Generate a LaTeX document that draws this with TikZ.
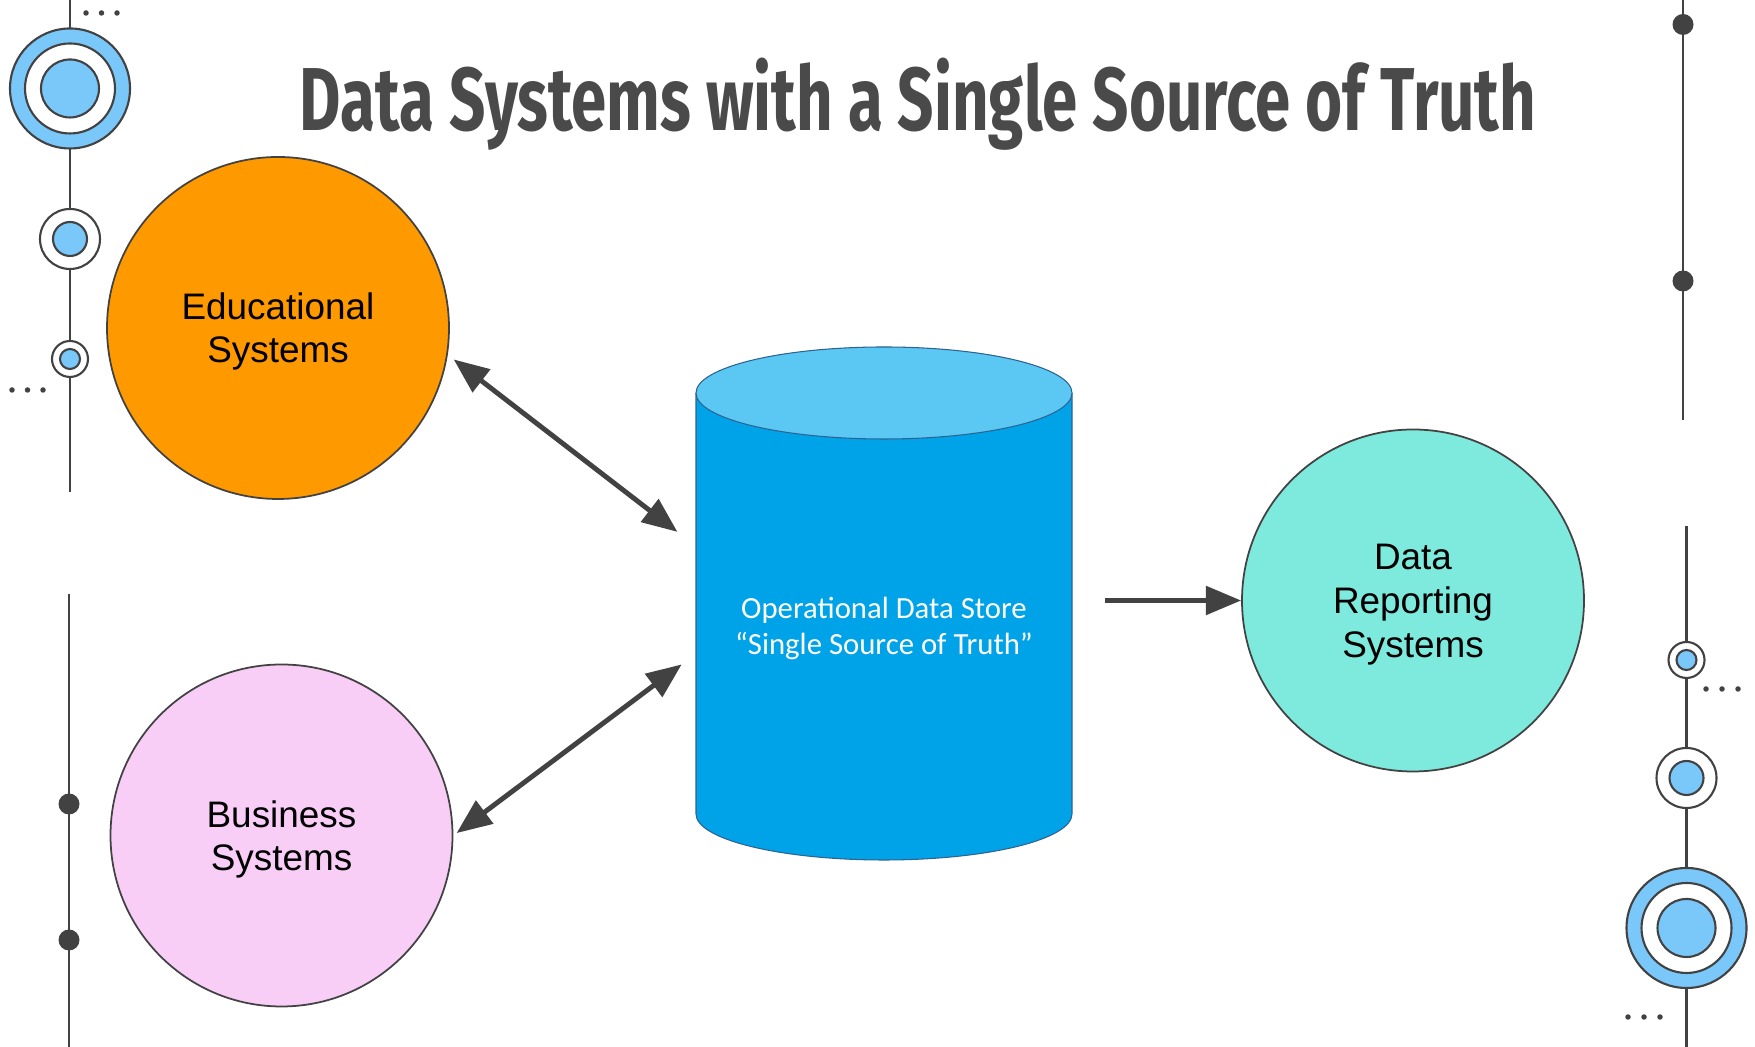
\documentclass[tikz,border=0pt]{standalone}
\usepackage{fontspec}
\usepackage{graphicx}
\setmainfont{Liberation Sans}
\newfontfamily\titlefont{Fira Sans}
\newfontfamily\storefont{Carlito}
\usepackage{tikz}
\usetikzlibrary{arrows.meta,calc,positioning}
\definecolor{Ink}{HTML}{424242}
\definecolor{Heading}{HTML}{4A4A4A}
\definecolor{Sky}{HTML}{7AC8FA}
\definecolor{Orange}{HTML}{FF9900}
\definecolor{Pink}{HTML}{F8CEF7}
\definecolor{Aqua}{HTML}{7EEADE}
\definecolor{StoreBody}{HTML}{00A2E8}
\definecolor{StoreTop}{HTML}{5BC7F3}
\definecolor{StoreLine}{HTML}{2E6391}

\begin{document}
\begin{tikzpicture}[
  system/.style={circle,draw=Ink,line width=1pt,minimum size=6.84cm,inner sep=0pt,align=center,text depth=-4pt,font=\fontsize{21}{24.5}\selectfont},
  link/.style={Ink,line width=2.8pt,arrows={Triangle[length=20pt,width=16pt]-Triangle[length=20pt,width=16pt]}},
  feed/.style={Ink,line width=2.8pt,-{Triangle[length=20pt,width=16pt]}},
  rail/.style={Ink,line width=1.4pt},
  ring/.style={draw=Ink,line width=1.2pt}
]
\useasboundingbox (0,0) rectangle (35.1,20.94);
% side rails
\draw[rail] (1.4,20.94)--(1.4,11.1);
\filldraw[ring,fill=Sky] (1.4,19.17) circle (1.2);
\filldraw[ring,fill=white] (1.4,19.17) circle (0.9);
\filldraw[ring,fill=Sky] (1.4,19.17) circle (0.58);
\foreach \y/\r/\s in {16.16/0.6/0.34,13.76/0.36/0.2} {
  \filldraw[ring,fill=white] (1.4,\y) circle (\r);
  \filldraw[ring,fill=Sky] (1.4,\y) circle (\s);
}
\foreach \x in {1.72,2.03,2.34} \fill[Ink] (\x,20.68) circle (0.055);
\foreach \x in {0.24,0.55,0.86} \fill[Ink] (\x,13.14) circle (0.055);
\draw[rail] (1.38,9.06)--(1.38,0);
\foreach \y in {4.86,2.14} \fill[Ink] (1.38,\y) circle (0.21);
\draw[rail] (33.66,20.94)--(33.66,12.53);
\foreach \y in {20.45,15.32} \fill[Ink] (33.66,\y) circle (0.21);
\draw[rail] (33.73,10.42)--(33.73,0);
\filldraw[ring,fill=Sky] (33.73,2.38) circle (1.2);
\filldraw[ring,fill=white] (33.73,2.38) circle (0.9);
\filldraw[ring,fill=Sky] (33.73,2.38) circle (0.58);
\foreach \y/\r/\s in {5.38/0.6/0.34,7.74/0.36/0.2} {
  \filldraw[ring,fill=white] (33.73,\y) circle (\r);
  \filldraw[ring,fill=Sky] (33.73,\y) circle (\s);
}
\foreach \x in {34.12,34.44,34.76} \fill[Ink] (\x,7.16) circle (0.055);
\foreach \x in {32.56,32.88,33.2} \fill[Ink] (\x,0.6) circle (0.055);
% title
\node[anchor=base,text=Heading] (title) at (18.36,18.32) {\resizebox{24.72cm}{1.45cm}{\titlefont\bfseries Data Systems with a Single Source of Truth}};
% systems
\node[system,fill=Orange] (edu) at (5.56,14.38) {Educational\\Systems};
\node[system,fill=Pink] (biz) at (5.63,4.23) {Business\\Systems};
\node[system,fill=Aqua,font=\fontsize{21}{25}\selectfont] (report) at (28.26,8.93) {Data\\Reporting\\Systems};
% data store
\node[minimum width=7.52cm,minimum height=10.26cm,inner sep=0pt] (store) at (17.68,8.87) {};
\fill[StoreBody] (13.92,13.08)--(13.92,4.66) arc[start angle=180,end angle=360,x radius=3.76,y radius=0.92]
  --(21.44,13.08) arc[start angle=0,end angle=180,x radius=3.76,y radius=0.92]--cycle;
\draw[StoreLine,line width=0.6pt] (13.92,13.08)--(13.92,4.66) arc[start angle=180,end angle=360,x radius=3.76,y radius=0.92]--(21.44,13.08);
\filldraw[StoreLine,fill=StoreTop,line width=0.6pt] (17.68,13.08) ellipse[x radius=3.76,y radius=0.92];
\node[text=white,align=center,font=\storefont\fontsize{17.5}{21}\selectfont] (storelabel) at ([yshift=-0.5cm]store.center) {Operational Data Store\\“Single Source of Truth”};
% connectors
\draw[link,shorten <=0.15cm,shorten >=0.46cm] (edu.-9)--(store.163);
\draw[link,shorten <=0.08cm,shorten >=0.35cm] (biz.east)--(store.195);
\draw[feed,shorten <=0.66cm] (store.east |- report.west)--(report.west);
\end{tikzpicture}
\end{document}
